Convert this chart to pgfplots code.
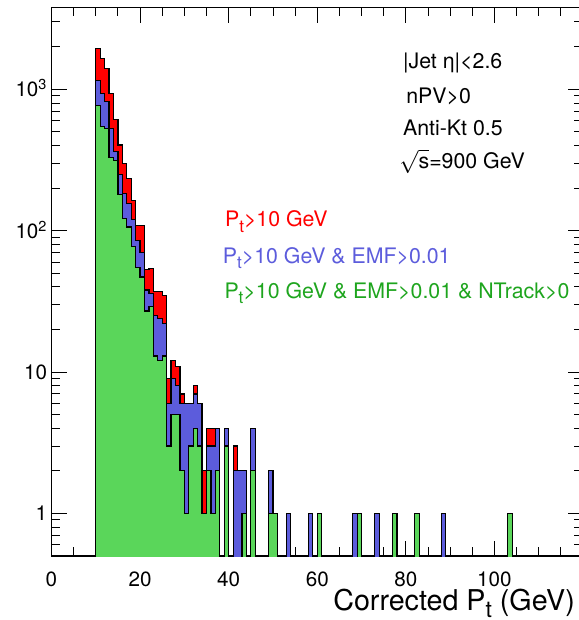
\documentclass[border=0pt]{standalone}
\usepackage{fontspec}
\setmainfont{TeX Gyre Heros}
\usepackage{pgfplots}
\pgfplotsset{compat=1.18}
\usepackage{pgfplotstable}
\definecolor{hred}{RGB}{255,0,0}
\definecolor{hblue}{RGB}{92,92,220}
\definecolor{hgreen}{RGB}{90,214,90}
\definecolor{tgreen}{RGB}{30,165,30}
\newcommand{\Pt}{P\raisebox{-0.5ex}{\scalebox{0.8}{t}}}

% bin lower edge, counts: all jets (R), EMF cut (B), EMF+NTrack cut (G); 0.01 = empty bin
\pgfplotstableread{
x R B G
10 0.01 0.01 0.01
10 1955 1153 767
11 1660 937 545
12 1410 818 530
13 937 530 330
14 613 362 315
15 404 250 180
16 299 183 122
17 234 155 106
18 164 120 77
19 109 85 55
20 109 70 47
21 53 38 27
22 54 36 29
23 37 25 13
24 37 24 12
25 35 22 13
26 9 6 3
27 12 9 5
28 11 8 5
29 7 6 2
30 6 6 1
31 6 6 3
32 8 7 4
33 6 6 3
34 2 1 1
35 4 3 2
36 4 3 1
37 4 4 2
38 0.01 0.01 0.01
39 4 4 3
40 0.01 0.01 0.01
41 3 2 0.01
42 2 2 0.01
43 2 2 1
44 0.01 0.01 0.01
45 4 4 2
46 0.01 0.01 0.01
47 0.01 0.01 0.01
48 0.01 0.01 0.01
49 2 2 1
50 1 1 1
51 0.01 0.01 0.01
52 0.01 0.01 0.01
53 1 1 0.01
54 0.01 0.01 0.01
55 0.01 0.01 0.01
56 0.01 0.01 0.01
57 0.01 0.01 0.01
58 1 1 0.01
59 0.01 0.01 0.01
60 1 1 1
61 0.01 0.01 0.01
62 0.01 0.01 0.01
63 0.01 0.01 0.01
64 0.01 0.01 0.01
65 0.01 0.01 0.01
66 0.01 0.01 0.01
67 0.01 0.01 0.01
68 1 1 0.01
69 1 1 1
70 0.01 0.01 0.01
71 0.01 0.01 0.01
72 0.01 0.01 0.01
73 1 1 0.01
74 0.01 0.01 0.01
75 0.01 0.01 0.01
76 0.01 0.01 0.01
77 1 1 1
78 0.01 0.01 0.01
79 0.01 0.01 0.01
80 0.01 0.01 0.01
81 0.01 0.01 0.01
82 1 1 1
83 0.01 0.01 0.01
84 0.01 0.01 0.01
85 0.01 0.01 0.01
86 0.01 0.01 0.01
87 0.01 0.01 0.01
88 1 1 0.01
89 0.01 0.01 0.01
90 0.01 0.01 0.01
91 0.01 0.01 0.01
92 0.01 0.01 0.01
93 0.01 0.01 0.01
94 0.01 0.01 0.01
95 0.01 0.01 0.01
96 0.01 0.01 0.01
97 0.01 0.01 0.01
98 0.01 0.01 0.01
99 0.01 0.01 0.01
100 0.01 0.01 0.01
101 0.01 0.01 0.01
102 0.01 0.01 0.01
103 1 1 1
104 0.01 0.01 0.01
}\hist

\begin{document}
\begin{tikzpicture}
\useasboundingbox (-38.6pt,-48pt) rectangle (394.9pt,417pt);
\begin{axis}[
  at={(0,0)}, anchor=south west,
  scale only axis, width=398.7pt, height=411.5pt,
  xmin=0, xmax=120, ymode=log, ymin=0.5, ymax=3800,
  axis line style={line width=0.9pt},
  tick align=inside,
  major tick length=11.5pt, minor tick length=6.5pt,
  tick style={black, line width=0.7pt},
  xtick={0,20,40,60,80,100}, xticklabels={0,20,40,60,80,100},
  minor xtick={5,10,15,25,30,35,45,50,55,65,70,75,85,90,95,105,110,115},
  ytick={1,10,100,1000}, yticklabels={1,10,10\textsuperscript{2},10\textsuperscript{3}},
  minor ytick={0.6,0.7,0.8,0.9,2,3,4,5,6,7,8,9,20,30,40,50,60,70,80,90,200,300,400,500,600,700,800,900,2000,3000},
  xticklabel style={font=\fontsize{15.5}{18}\selectfont, anchor=north, inner sep=0pt, yshift=-12pt},
  yticklabel style={font=\fontsize{15.5}{18}\selectfont, anchor=base east, inner sep=0pt, xshift=-3pt, yshift=-5.5pt},
  xlabel={Corrected \Pt\ (GeV)},
  xlabel style={font=\fontsize{21.5}{24}\selectfont, at={(axis description cs:1,0)}, anchor=base east, inner sep=0pt, xshift=-6pt, yshift=-40.5pt},
]
\addplot[const plot mark left, fill=hred, draw=black, line width=0.9pt] table[x=x,y=R]{\hist};
\addplot[const plot mark left, fill=hblue, draw=black, line width=0.9pt] table[x=x,y=B]{\hist};
\addplot[const plot mark left, fill=hgreen, draw=black, line width=0.9pt] table[x=x,y=G]{\hist};

\node[anchor=base west, inner sep=0pt, font=\fontsize{16}{19}\selectfont] at (axis description cs:0.661,0.889) {|Jet η|<2.6};
\node[anchor=base west, inner sep=0pt, font=\fontsize{16}{19}\selectfont] at (axis description cs:0.667,0.824) {nPV>0};
\node[anchor=base west, inner sep=0pt, font=\fontsize{16}{19}\selectfont] at (axis description cs:0.661,0.767) {Anti-Kt 0.5};
\node[anchor=base west, inner sep=0pt, font=\fontsize{16}{19}\selectfont] at (axis description cs:0.654,0.707) {$\sqrt{\hbox{s}}$=900 GeV};

\node[anchor=base west, inner sep=0pt, text=hred, font=\fontsize{16}{19}\selectfont] at (axis description cs:0.326,0.600) {\Pt>10 GeV};
\node[anchor=base west, inner sep=0pt, text=hblue, font=\fontsize{16}{19}\selectfont] at (axis description cs:0.322,0.534) {\Pt>10 GeV \& EMF>0.01};
\node[anchor=base west, inner sep=0pt, text=tgreen, font=\fontsize{16}{19}\selectfont] at (axis description cs:0.325,0.470) {\Pt>10 GeV \& EMF>0.01 \& NTrack>0};
\end{axis}
\end{tikzpicture}
\end{document}
